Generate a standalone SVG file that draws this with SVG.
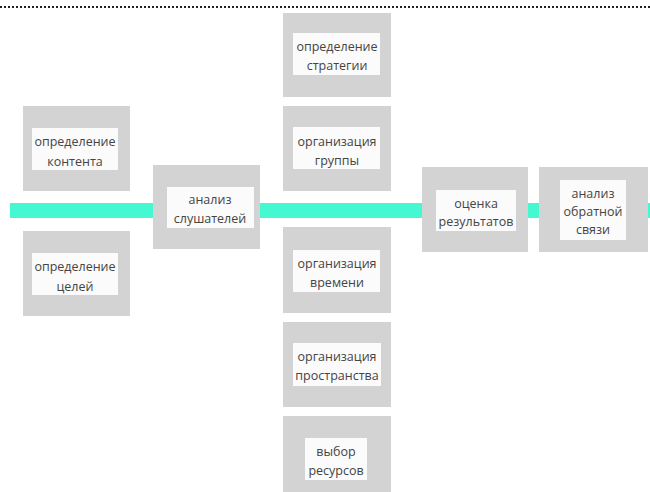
<svg xmlns="http://www.w3.org/2000/svg" width="650" height="492" viewBox="0 0 650 492">
<style>
.box{fill:#d4d3d3}
.in{fill:#fbfbfb}
.t{font-family:"Open Sans","Noto Sans",sans-serif;font-size:12.5px;fill:#444;text-anchor:middle}
</style>
<rect width="650" height="492" fill="#fff"/>
<line x1="0" y1="7" x2="650" y2="7" stroke="#222" stroke-width="2" stroke-dasharray="2,2"/>
<g id="connectors">
<rect x="10" y="203" width="640" height="15" fill="#44f8d2"/>
</g>
<g id="n1"><rect class="box" x="23" y="106" width="107" height="85"/><rect class="in" x="32" y="128" width="86" height="42"/><text class="t" x="75" y="146">определение</text><text class="t" x="75" y="166">контента</text></g>
<g id="n2"><rect class="box" x="23" y="231" width="107" height="85"/><rect class="in" x="32" y="253" width="86" height="42"/><text class="t" x="75" y="271">определение</text><text class="t" x="75" y="291">целей</text></g>
<g id="n3"><rect class="box" x="153" y="165" width="107" height="84"/><rect class="in" x="167" y="187" width="87" height="41"/><text class="t" x="210" y="204">анализ</text><text class="t" x="210" y="223">слушателей</text></g>
<g id="n4"><rect class="box" x="283" y="13" width="108" height="84"/><rect class="in" x="293" y="33" width="87" height="42"/><text class="t" x="337" y="51">определение</text><text class="t" x="337" y="70">стратегии</text></g>
<g id="n5"><rect class="box" x="283" y="106" width="108" height="85"/><rect class="in" x="293" y="127" width="87" height="42"/><text class="t" x="337" y="146">организация</text><text class="t" x="337" y="165">группы</text></g>
<g id="n6"><rect class="box" x="283" y="227" width="108" height="86"/><rect class="in" x="293" y="250" width="87" height="42"/><text class="t" x="337" y="268">организация</text><text class="t" x="337" y="287">времени</text></g>
<g id="n7"><rect class="box" x="283" y="322" width="108" height="85"/><rect class="in" x="293" y="343" width="88" height="43"/><text class="t" x="337" y="361">организация</text><text class="t" x="337" y="380">пространства</text></g>
<g id="n8"><rect class="box" x="283" y="416" width="108" height="76"/><rect class="in" x="305" y="438" width="62" height="42"/><text class="t" x="336" y="456">выбор</text><text class="t" x="336" y="475">ресурсов</text></g>
<g id="n9"><rect class="box" x="422" y="167" width="106" height="85"/><rect class="in" x="436" y="190" width="80" height="41"/><text class="t" x="476" y="208">оценка</text><text class="t" x="476" y="226">результатов</text></g>
<g id="n10"><rect class="box" x="539" y="167" width="109" height="85"/><rect class="in" x="560" y="180" width="66" height="60"/><text class="t" x="593" y="198">анализ</text><text class="t" x="593" y="216">обратной</text><text class="t" x="593" y="234">связи</text></g>
</svg>
